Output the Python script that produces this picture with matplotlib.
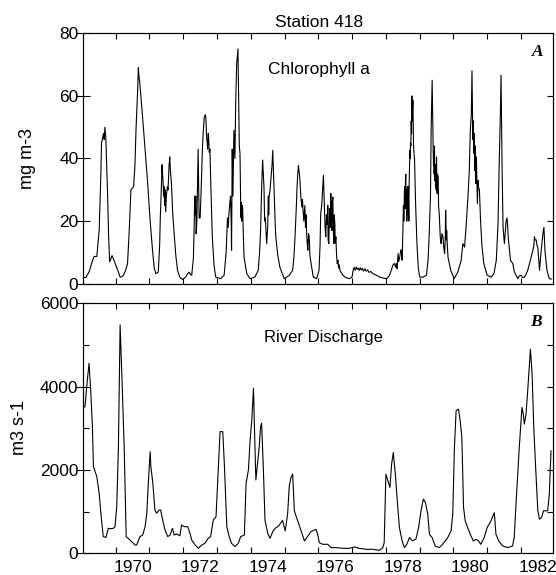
import matplotlib
matplotlib.use("Agg")
import matplotlib.pyplot as plt
from matplotlib.ticker import FixedLocator, FixedFormatter, NullFormatter

plt.rcParams['font.family'] = ['Liberation Sans', 'DejaVu Sans']

# ---------------- data ----------------
chl_years = [
    1969.04, 1969.12, 1969.22, 1969.30, 1969.36, 1969.44, 1969.51, 1969.56, 1969.58, 1969.62,
    1969.64, 1969.66, 1969.68, 1969.71, 1969.74, 1969.76, 1969.79, 1969.82, 1969.86, 1969.89,
    1969.93, 1970.00, 1970.07, 1970.13, 1970.18, 1970.23, 1970.30, 1970.35, 1970.40, 1970.45,
    1970.53, 1970.57, 1970.60, 1970.65, 1970.67, 1970.69, 1970.71, 1970.79, 1970.86, 1970.94,
    1971.02, 1971.09, 1971.14, 1971.19, 1971.26, 1971.30, 1971.32, 1971.35, 1971.37, 1971.38,
    1971.40, 1971.42, 1971.43, 1971.45, 1971.46, 1971.48, 1971.50, 1971.53, 1971.55, 1971.58,
    1971.60, 1971.62, 1971.65, 1971.69, 1971.73, 1971.78, 1971.83, 1971.90, 1971.98, 1972.07,
    1972.12, 1972.17, 1972.21, 1972.25, 1972.30, 1972.32, 1972.34, 1972.35, 1972.37, 1972.38,
    1972.40, 1972.42, 1972.44, 1972.45, 1972.47, 1972.50, 1972.53, 1972.57, 1972.60, 1972.62,
    1972.65, 1972.67, 1972.69, 1972.71, 1972.72, 1972.74, 1972.75, 1972.77, 1972.79, 1972.82,
    1972.86, 1972.91, 1972.96, 1973.05, 1973.11, 1973.21, 1973.27, 1973.31, 1973.33, 1973.35,
    1973.38, 1973.40, 1973.42, 1973.43, 1973.45, 1973.47, 1973.50, 1973.53, 1973.55, 1973.58,
    1973.60, 1973.62, 1973.64, 1973.66, 1973.68, 1973.70, 1973.71, 1973.72, 1973.73, 1973.75,
    1973.76, 1973.78, 1973.80, 1973.88, 1973.98, 1974.12, 1974.22, 1974.26, 1974.29, 1974.32,
    1974.35, 1974.37, 1974.39, 1974.41, 1974.43, 1974.47, 1974.50, 1974.52, 1974.53, 1974.54,
    1974.57, 1974.60, 1974.63, 1974.65, 1974.67, 1974.69, 1974.72, 1974.74, 1974.80, 1974.86,
    1974.99, 1975.14, 1975.24, 1975.28, 1975.31, 1975.35, 1975.37, 1975.39, 1975.41, 1975.43,
    1975.45, 1975.48, 1975.51, 1975.53, 1975.55, 1975.57, 1975.60, 1975.62, 1975.64, 1975.65,
    1975.67, 1975.69, 1975.71, 1975.73, 1975.75, 1975.77, 1975.85, 1975.95, 1976.02, 1976.05,
    1976.07, 1976.10, 1976.12, 1976.14, 1976.15, 1976.17, 1976.18, 1976.20, 1976.22, 1976.24,
    1976.26, 1976.28, 1976.29, 1976.31, 1976.33, 1976.35, 1976.37, 1976.38, 1976.40, 1976.41,
    1976.43, 1976.44, 1976.46, 1976.47, 1976.49, 1976.50, 1976.52, 1976.54, 1976.56, 1976.58,
    1976.60, 1976.62, 1976.64, 1976.68, 1976.73, 1976.80, 1976.93, 1977.00, 1977.03, 1977.06,
    1977.09, 1977.12, 1977.15, 1977.18, 1977.21, 1977.24, 1977.27, 1977.30, 1977.34, 1977.38,
    1977.42, 1977.46, 1977.50, 1977.55, 1977.62, 1977.70, 1977.82, 1977.92, 1978.02, 1978.10,
    1978.16, 1978.21, 1978.26, 1978.28, 1978.31, 1978.33, 1978.36, 1978.38, 1978.41, 1978.44,
    1978.46, 1978.48, 1978.50, 1978.52, 1978.53, 1978.54, 1978.55, 1978.56, 1978.57, 1978.58,
    1978.59, 1978.60, 1978.61, 1978.62, 1978.63, 1978.64, 1978.65, 1978.66, 1978.67, 1978.68,
    1978.69, 1978.71, 1978.72, 1978.73, 1978.74, 1978.75, 1978.76, 1978.77, 1978.78, 1978.79,
    1978.80, 1978.81, 1978.82, 1978.85, 1978.88, 1978.92, 1978.96, 1979.00, 1979.10, 1979.20,
    1979.25, 1979.28, 1979.32, 1979.34, 1979.37, 1979.39, 1979.40, 1979.41, 1979.42, 1979.43,
    1979.44, 1979.45, 1979.46, 1979.47, 1979.48, 1979.49, 1979.50, 1979.51, 1979.52, 1979.53,
    1979.55, 1979.56, 1979.58, 1979.60, 1979.61, 1979.63, 1979.64, 1979.66, 1979.69, 1979.72,
    1979.74, 1979.76, 1979.77, 1979.79, 1979.80, 1979.82, 1979.84, 1979.92, 1980.02, 1980.13,
    1980.23, 1980.28, 1980.33, 1980.38, 1980.43, 1980.47, 1980.50, 1980.53, 1980.55, 1980.57,
    1980.58, 1980.59, 1980.60, 1980.61, 1980.62, 1980.63, 1980.64, 1980.65, 1980.66, 1980.68,
    1980.70, 1980.71, 1980.73, 1980.74, 1980.77, 1980.80, 1980.84, 1980.90, 1981.00, 1981.12,
    1981.20, 1981.27, 1981.32, 1981.36, 1981.39, 1981.41, 1981.44, 1981.47, 1981.51, 1981.56,
    1981.59, 1981.63, 1981.69, 1981.76, 1981.80, 1981.83, 1981.91, 1981.95, 1982.00, 1982.05,
    1982.10, 1982.15, 1982.20, 1982.28, 1982.35, 1982.38, 1982.40, 1982.42, 1982.45, 1982.48,
    1982.50, 1982.55, 1982.58, 1982.60, 1982.65, 1982.68, 1982.71, 1982.77, 1982.84, 1982.90,
]
chl_values = [
    2.0, 2.0, 4.0, 7.0, 8.7, 8.7, 17, 35, 45, 47,
    48, 46, 50, 46, 35, 28, 15, 7, 8.0, 9.0,
    8.0, 6.0, 4.0, 2.1, 2.2, 2.7, 4.5, 6.4, 17, 30,
    31, 38, 49, 62, 69, 66, 64.5, 54, 44, 33,
    20, 10.7, 5, 3.2, 3.7, 12, 21, 30, 38, 36,
    33, 28, 31, 25, 30, 23, 28, 31, 30, 38,
    40.5, 36, 32, 22, 16, 9, 4.3, 2.0, 1.3, 2.1,
    3.0, 3.7, 3.0, 2.7, 8, 17, 28, 22, 28, 16,
    19, 30, 43, 35, 21, 21, 30, 44, 50, 53,
    54, 53, 47, 45, 43, 48, 47, 42, 43, 30,
    15, 6, 2.1, 1.8, 1.6, 2.7, 10, 21, 18, 22,
    26, 28, 20, 10.7, 43, 28, 49, 40, 56.5, 70,
    72.5, 75, 60, 44, 41.6, 25.6, 21, 26, 20, 25,
    23.5, 15, 8.5, 3.2, 1.6, 2.1, 4.3, 10, 17, 30,
    39.5, 35, 31, 20, 21, 12.8, 18, 28, 22, 27.7,
    30, 34, 38, 42.6, 36, 30, 20, 15, 9, 5.3,
    1.6, 2.7, 4.3, 9, 15, 25, 31, 35, 37.8, 36,
    34, 28, 24.5, 27, 23, 20, 25, 18, 22, 17,
    13, 10.7, 16, 15, 9, 7.5, 2.1, 1.6, 4.3, 12,
    22.4, 25, 28.8, 33, 34.6, 28, 25.6, 18, 15, 22,
    19, 25, 14, 12.8, 24, 18, 28.8, 20, 17, 26,
    27.7, 18, 12.8, 22, 19, 13, 15, 9, 6.4, 7.5,
    5, 6, 4.3, 3.5, 2.7, 2.0, 1.6, 2.2, 4.3, 5.2,
    4.3, 5.3, 4.6, 5.0, 4.2, 5.1, 4.4, 4.9, 4.0, 4.8,
    4.0, 4.4, 3.6, 3.9, 3.2, 2.8, 2.1, 1.8, 1.6, 2.5,
    4.3, 6.0, 6.5, 5.3, 6.4, 4.8, 9.6, 7.0, 8.5, 10.7,
    10.7, 7.5, 15, 25, 20, 23.5, 30, 31, 24, 33,
    35, 25, 30, 20, 28, 31, 22, 31, 25, 20,
    32, 42.6, 40, 45, 44, 52, 48, 60, 52, 56,
    58.6, 50, 43.7, 39.4, 25.6, 12.8, 5, 2.1, 2.1, 2.7,
    7.5, 15, 27.7, 49, 65, 50, 43.7, 38, 42, 35,
    44, 33, 38, 31, 37, 30, 40.5, 30, 28.8, 35,
    34, 25, 22.4, 17, 15, 13, 12.8, 16, 15, 11,
    9.6, 15, 23.5, 14, 17, 12, 8.5, 4.3, 1.6, 3.7,
    7.5, 12.8, 11.7, 19, 27.7, 36, 49, 54, 68, 50,
    46, 52, 42, 41.6, 48, 38, 36, 44, 32, 40.5,
    30, 25.6, 33, 31, 30, 21, 12.8, 6.4, 2.7, 2.1,
    3.2, 7.5, 19, 40.5, 54, 66.6, 38, 18, 12.8, 20,
    21, 14, 7.5, 6.4, 4, 3.2, 1.6, 2.5, 2.7, 2.0,
    2.1, 3, 4.3, 7.5, 10.7, 12, 15, 14, 14, 12,
    11.7, 4.3, 8, 10.7, 16, 18, 10.7, 4.3, 1.6, 1.5,
]

q_years = [
    1969.04, 1969.09, 1969.16, 1969.21, 1969.26, 1969.31, 1969.34, 1969.44, 1969.51, 1969.56,
    1969.63, 1969.71, 1969.78, 1969.86, 1969.93, 1969.98, 1970.03, 1970.08, 1970.13, 1970.18,
    1970.25, 1970.31, 1970.37, 1970.47, 1970.57, 1970.62, 1970.72, 1970.80, 1970.87, 1970.92,
    1970.97, 1971.02, 1971.04, 1971.10, 1971.16, 1971.21, 1971.29, 1971.33, 1971.39, 1971.46,
    1971.54, 1971.61, 1971.68, 1971.73, 1971.81, 1971.90, 1971.95, 1972.03, 1972.13, 1972.20,
    1972.25, 1972.35, 1972.45, 1972.55, 1972.64, 1972.74, 1972.81, 1972.89, 1972.97, 1973.04,
    1973.09, 1973.17, 1973.22, 1973.29, 1973.36, 1973.43, 1973.53, 1973.63, 1973.70, 1973.81,
    1973.86, 1973.93, 1973.98, 1974.03, 1974.08, 1974.11, 1974.15, 1974.19, 1974.25, 1974.29,
    1974.32, 1974.37, 1974.42, 1974.50, 1974.57, 1974.65, 1974.72, 1974.82, 1974.94, 1975.02,
    1975.09, 1975.14, 1975.19, 1975.24, 1975.29, 1975.39, 1975.49, 1975.59, 1975.69, 1975.78,
    1975.93, 1975.98, 1976.03, 1976.13, 1976.28, 1976.38, 1976.53, 1976.72, 1976.92, 1977.07,
    1977.21, 1977.41, 1977.61, 1977.81, 1977.91, 1977.95, 1978.00, 1978.06, 1978.12, 1978.17,
    1978.22, 1978.28, 1978.33, 1978.40, 1978.48, 1978.55, 1978.62, 1978.70, 1978.74, 1978.79,
    1978.89, 1978.97, 1979.04, 1979.11, 1979.17, 1979.24, 1979.29, 1979.37, 1979.46, 1979.58,
    1979.68, 1979.83, 1979.93, 1979.98, 1980.03, 1980.08, 1980.15, 1980.20, 1980.25, 1980.30,
    1980.35, 1980.42, 1980.50, 1980.59, 1980.67, 1980.74, 1980.81, 1980.91, 1981.00, 1981.11,
    1981.21, 1981.26, 1981.34, 1981.46, 1981.61, 1981.75, 1981.80, 1981.87, 1981.95, 1982.03,
    1982.07, 1982.10, 1982.15, 1982.20, 1982.25, 1982.28, 1982.33, 1982.38, 1982.43, 1982.50,
    1982.55, 1982.61, 1982.67, 1982.74, 1982.79, 1982.84, 1982.89,
]
q_values = [
    3500, 3520, 4160, 4560, 3900, 3040, 2080, 1840, 1440, 960,
    400, 380, 600, 590, 600, 640, 1120, 2560, 5480, 4320,
    2560, 400, 360, 280, 200, 200, 400, 440, 640, 960,
    1760, 2440, 2080, 1680, 1040, 960, 1040, 1040, 800, 560,
    400, 440, 600, 440, 464, 420, 680, 640, 640, 480,
    320, 200, 120, 200, 240, 360, 400, 800, 880, 2080,
    2920, 2920, 2080, 640, 400, 240, 160, 240, 400, 440,
    1680, 2000, 2720, 3200, 3960, 2960, 1760, 2080, 2560, 3040,
    3120, 2080, 800, 480, 360, 520, 600, 650, 790, 536,
    940, 1620, 1820, 1900, 1016, 776, 536, 296, 416, 520,
    576, 456, 256, 216, 216, 136, 136, 120, 120, 152,
    120, 96, 96, 72, 136, 256, 1900, 1740, 1580, 2140,
    2420, 1900, 1340, 620, 300, 136, 216, 380, 340, 300,
    340, 620, 1020, 1300, 1220, 940, 456, 376, 176, 136,
    216, 376, 536, 940, 2540, 3420, 3460, 3180, 2780, 1100,
    776, 620, 456, 296, 336, 300, 216, 376, 620, 776,
    976, 456, 296, 176, 136, 176, 376, 1416, 2540, 3500,
    3340, 3100, 3340, 3900, 4540, 4900, 4300, 3020, 2140, 1020,
    820, 860, 1020, 1020, 1020, 1420, 2460,
]

year_ticks = list(range(1970, 1983))
label_years = [1970, 1972, 1974, 1976, 1978, 1980, 1982]
chl_ticks = [0, 20, 40, 60, 80]
q_ticks = [0, 2000, 4000, 6000]
q_minor = [1000, 3000, 5000]

# ---------------- figure ----------------
W, H = 556, 575
fig = plt.figure(figsize=(W / 100, H / 100), dpi=100)

def fx(px):
    return px / W

def fy(py):
    return 1 - py / H

left, right = 83.3, 552.7
ax1 = fig.add_axes([fx(left), fy(283.7), fx(right) - fx(left), fy(33.3) - fy(283.7)])
ax2 = fig.add_axes([fx(left), fy(553.3), fx(right) - fx(left), fy(303.3) - fy(553.3)])

xlim = (1969.04, 1982.94)
lw = 0.8

ax1.plot(chl_years, chl_values, color='black', lw=lw)
ax2.plot(q_years, q_values, color='black', lw=lw)

tick_fs = 12.5
for ax, yt, ylim in ((ax1, chl_ticks, (0, 80)), (ax2, q_ticks, (0, 6000))):
    ax.set_xlim(*xlim)
    ax.set_ylim(*ylim)
    for s in ax.spines.values():
        s.set_linewidth(0.8)
    ax.xaxis.set_major_locator(FixedLocator(year_ticks))
    ax.xaxis.set_major_formatter(NullFormatter())
    ax.tick_params(axis='x', which='major', direction='in', length=4, width=0.8,
                   top=True, bottom=True)
    ax.set_yticks(yt)
    ax.set_yticklabels([str(v) for v in yt], fontsize=tick_fs)
    ax.tick_params(axis='y', which='major', direction='inout', length=10, width=0.8,
                   pad=-1.5, left=True, right=False)

# x labels on bottom panel, centred on the year intervals
ax2.xaxis.set_minor_locator(FixedLocator([y + 0.5 for y in label_years]))
ax2.xaxis.set_minor_formatter(FixedFormatter([str(y) for y in label_years]))
ax2.tick_params(axis='x', which='minor', length=0, pad=4.8, labelsize=tick_fs)
ax1.xaxis.set_minor_formatter(NullFormatter())

# left minor ticks bottom panel
ax2.yaxis.set_minor_locator(FixedLocator(q_minor))
ax2.tick_params(axis='y', which='minor', direction='in', length=4, width=0.8, left=True)

# right side inward ticks
r1 = ax1.twinx()
r1.set_ylim(0, 80)
r1.set_yticks([20, 40, 60])
r1.set_yticklabels([])
r1.tick_params(axis='y', direction='in', length=4, width=0.8)
r2 = ax2.twinx()
r2.set_ylim(0, 6000)
r2.set_yticks([1000, 2000, 3000, 4000, 5000])
r2.set_yticklabels([])
r2.tick_params(axis='y', direction='in', length=4, width=0.8)
for r in (r1, r2):
    for s in r.spines.values():
        s.set_linewidth(0.8)

# texts
fig.text(fx(319), fy(26.7), 'Station 418', ha='center', va='baseline', fontsize=12.5)
ax1.text(0.501, 0.8375, 'Chlorophyll a', transform=ax1.transAxes,
         ha='center', va='baseline', fontsize=12.5)
ax2.text(0.5106, 0.846, 'River Discharge', transform=ax2.transAxes,
         ha='center', va='baseline', fontsize=12)
ax1.text(0.98, 0.909, 'A', transform=ax1.transAxes, ha='right', va='baseline',
         fontsize=12.5, fontweight='bold', fontstyle='italic',
         family=['Liberation Serif', 'DejaVu Serif'])
ax2.text(0.977, 0.909, 'B', transform=ax2.transAxes, ha='right', va='baseline',
         fontsize=12.5, fontweight='bold', fontstyle='italic',
         family=['Liberation Serif', 'DejaVu Serif'])

fig.text(fx(27.5), fy(158.5), 'mg m-3', rotation=90, ha='center', va='center', fontsize=13)
fig.text(fx(20), fy(428), 'm3 s-1', rotation=90, ha='center', va='center', fontsize=13)

fig.savefig('out.png', dpi=100)
